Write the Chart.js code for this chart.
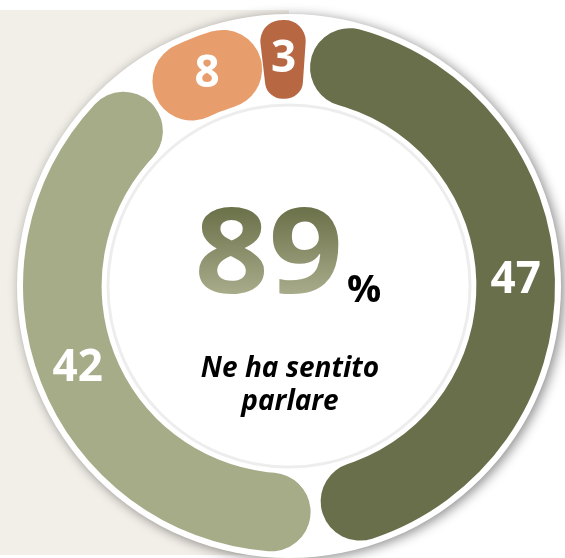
<!DOCTYPE html>
<html><head><meta charset="utf-8">
<script src="https://cdn.jsdelivr.net/npm/chart.js@4"></script>
<style>html,body{margin:0;padding:0;background:#fff}#wrap{width:565px;height:558px;position:relative}</style>
</head><body><div id="wrap"><canvas id="c" width="565" height="558"></canvas></div>
<script>
const categories = ['Segmento 1', 'Segmento 2', 'Segmento 3', 'Segmento 4'];
const values = [47, 42, 8, 3];
const colors = ['#696f4a', '#a6ab88', '#e89d6c', '#b76843'];
const centerValue = '89';
const centerUnit = '%';
const centerCaption = ['Ne ha sentito', 'parlare'];

const FONT = '"Open Sans", "DejaVu Sans", sans-serif';

const decor = {
  id: 'decor',
  beforeDraw(chart) {
    const ctx = chart.ctx;
    const arc = chart.getDatasetMeta(0).data[0];
    const cx = arc.x, cy = arc.y;
    ctx.save();
    ctx.fillStyle = '#ffffff';
    ctx.fillRect(0, 0, chart.width, chart.height);
    ctx.fillStyle = '#f2eee8';
    ctx.fillRect(0, 10, cx, 545);
    ctx.shadowColor = 'rgba(0,0,0,0.45)';
    ctx.shadowBlur = 12;
    ctx.shadowOffsetX = 3;
    ctx.shadowOffsetY = 2;
    ctx.fillStyle = '#ffffff';
    ctx.beginPath();
    ctx.arc(cx, cy, 272, 0, Math.PI * 2);
    ctx.fill();
    ctx.restore();
  },
  afterDatasetsDraw(chart) {
    const ctx = chart.ctx;
    const meta = chart.getDatasetMeta(0);
    const arc = meta.data[0];
    const cx = arc.x, cy = arc.y;
    ctx.save();
    // inner panel ring
    ctx.strokeStyle = 'rgba(0,0,0,0.07)';
    ctx.lineWidth = 3;
    ctx.beginPath();
    ctx.arc(cx, cy, 181, 0, Math.PI * 2);
    ctx.stroke();
    // segment labels
    ctx.fillStyle = '#ffffff';
    ctx.font = 'bold 44px ' + FONT;
    ctx.textAlign = 'center';
    ctx.textBaseline = 'middle';
    meta.data.forEach((el, i) => {
      const p = el.tooltipPosition();
      ctx.fillText(String(values[i]), p.x, p.y);
    });
    // center value
    ctx.save();
    ctx.translate(cx + 54, cy + 7);
    ctx.scale(1.1, 1);
    ctx.font = 'bold 118px ' + FONT;
    ctx.textAlign = 'right';
    ctx.textBaseline = 'alphabetic';
    const g = ctx.createLinearGradient(0, -86, 0, 0);
    g.addColorStop(0, '#6a7048');
    g.addColorStop(1, '#a8ab8a');
    ctx.fillStyle = g;
    ctx.fillText(centerValue, 0, 0);
    ctx.restore();
    ctx.fillStyle = '#000000';
    ctx.font = 'bold 38px ' + FONT;
    ctx.textAlign = 'left';
    ctx.textBaseline = 'alphabetic';
    ctx.fillText(centerUnit, cx + 58, cy + 16);
    ctx.font = 'italic bold 28px ' + FONT;
    ctx.textAlign = 'center';
    ctx.fillText(centerCaption[0], cx + 1, cy + 91);
    ctx.fillText(centerCaption[1], cx + 1, cy + 124);
    ctx.restore();
  }
};

new Chart(document.getElementById('c'), {
  type: 'doughnut',
  data: {
    labels: categories,
    datasets: [{
      data: values,
      backgroundColor: colors,
      borderWidth: 0,
      borderRadius: 40,
      spacing: 8,
      radius: 262,
      cutout: '70%'
    }]
  },
  options: {
    responsive: false,
    animation: false,
    rotation: 4,
    layout: { padding: { left: 13, top: 14, right: 0, bottom: 0 } },
    plugins: { legend: { display: false }, tooltip: { enabled: false } }
  },
  plugins: [decor]
});
</script></body></html>
